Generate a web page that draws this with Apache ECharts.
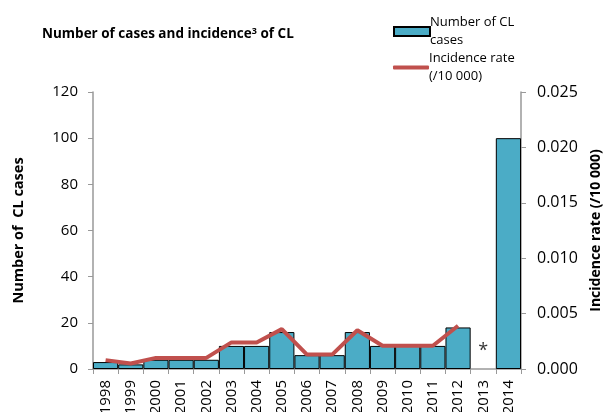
<!DOCTYPE html>
<html>
<head>
<meta charset="utf-8">
<script src="https://cdn.jsdelivr.net/npm/echarts@6/dist/echarts.min.js"></script>
<style>
    html, body { margin: 0; padding: 0; background: #fff; }
    #chart { width: 603px; height: 412px; }
</style>
</head>
<body>
<div id="chart"></div>
<script>
    // years on the x axis
    var years = ['1998', '1999', '2000', '2001', '2002', '2003', '2004', '2005', '2006',
        '2007', '2008', '2009', '2010', '2011', '2012', '2013', '2014'];
    // number of CL cases (left axis)
    var cases = [3, 2, 4, 4, 4, 10, 10, 16, 6, 6, 16, 10, 10, 10, 18, null, 100];
    // incidence rate per 10 000 (right axis)
    var incidence = [0.0008, 0.0005, 0.001, 0.001, 0.001, 0.0024, 0.0024, 0.0036, 0.0013,
        0.0013, 0.0035, 0.0021, 0.0021, 0.0021, 0.0039, null, null];
    // note shown for the year without data
    var notes = [null, null, null, null, null, null, null, null, null,
        null, null, null, null, null, null, 8, null];

    var chart = echarts.init(document.getElementById('chart'));
    var font = 'Open Sans';

    var option = {
        animation: false,
        textStyle: { fontFamily: font },
        title: {
            text: '{t|Number of cases and incidence}{s|3}{t| of CL}',
            left: 37,
            top: 22,
            textStyle: {
                rich: {
                    t: { fontFamily: font, fontWeight: 'bold', fontSize: 13.5, color: '#000' },
                    s: { fontFamily: font, fontWeight: 'bold', fontSize: 9, color: '#000', verticalAlign: 'top', padding: [0, 0, 6, 0] }
                }
            }
        },
        legend: [{
            data: [{ name: 'Number of CL cases', icon: 'rect' }],
            left: 388,
            top: 11,
            itemWidth: 36,
            itemHeight: 9,
            formatter: function () { return 'Number of CL\ncases'; },
            textStyle: { fontFamily: font, fontSize: 13, color: '#000', lineHeight: 18, padding: [0, 0, -18, -5] }
        }, {
            data: [{ name: 'Incidence rate (/10 000)', icon: 'roundRect' }],
            left: 388,
            top: 47,
            itemWidth: 36,
            itemHeight: 4,
            formatter: function () { return 'Incidence rate\n(/10 000)'; },
            textStyle: { fontFamily: font, fontSize: 13, color: '#000', lineHeight: 18, padding: [0, 0, -18, -5] }
        }],
        grid: {
            left: 93,
            right: 82,
            top: 92,
            bottom: 43,
            outerBoundsMode: 'none'
        },
        xAxis: {
            type: 'category',
            data: years,
            axisLine: { lineStyle: { color: '#999', width: 1.5 } },
            axisTick: { show: true, length: 5, lineStyle: { color: '#999' } },
            axisLabel: { rotate: 90, color: '#000', fontSize: 15, margin: 11, fontFamily: font }
        },
        yAxis: [{
            type: 'value',
            min: 0,
            max: 120,
            interval: 20,
            name: 'Number of  CL cases',
            nameLocation: 'middle',
            nameGap: 67,
            nameTextStyle: { fontWeight: 'bold', fontSize: 14.5, color: '#000', fontFamily: font },
            axisLine: { show: true, lineStyle: { color: '#999', width: 1.5 } },
            axisTick: { show: true, length: 5, lineStyle: { color: '#999' } },
            axisLabel: { color: '#000', fontSize: 15, margin: 15, fontFamily: font },
            splitLine: { show: false }
        }, {
            type: 'value',
            min: 0,
            max: 0.025,
            interval: 0.005,
            name: 'Incidence rate (/10 000)',
            nameLocation: 'middle',
            nameGap: 67,
            nameTextStyle: { fontWeight: 'bold', fontSize: 14, color: '#000', fontFamily: font },
            axisLine: { show: true, lineStyle: { color: '#999', width: 1.5 } },
            axisTick: { show: true, length: 5, lineStyle: { color: '#999' } },
            axisLabel: {
                color: '#000', fontSize: 16, margin: 16, fontFamily: font,
                formatter: function (v) { return v.toFixed(3); }
            },
            splitLine: { show: false }
        }],
        series: [{
            name: 'Number of CL cases',
            type: 'bar',
            data: cases,
            barCategoryGap: 0,
            itemStyle: { color: '#4BACC6', borderColor: '#000', borderWidth: 1 }
        }, {
            name: 'Incidence rate (/10 000)',
            type: 'line',
            yAxisIndex: 1,
            data: incidence,
            symbol: 'none',
            connectNulls: false,
            lineStyle: { color: '#C0504D', width: 4 },
            itemStyle: { color: '#C0504D' }
        }, {
            name: 'note',
            type: 'scatter',
            data: notes,
            symbolSize: 0,
            silent: true,
            label: { show: true, position: 'inside', formatter: '*', fontSize: 18, color: '#000', fontFamily: font }
        }]
    };

    chart.setOption(option);
</script>
</body>
</html>
